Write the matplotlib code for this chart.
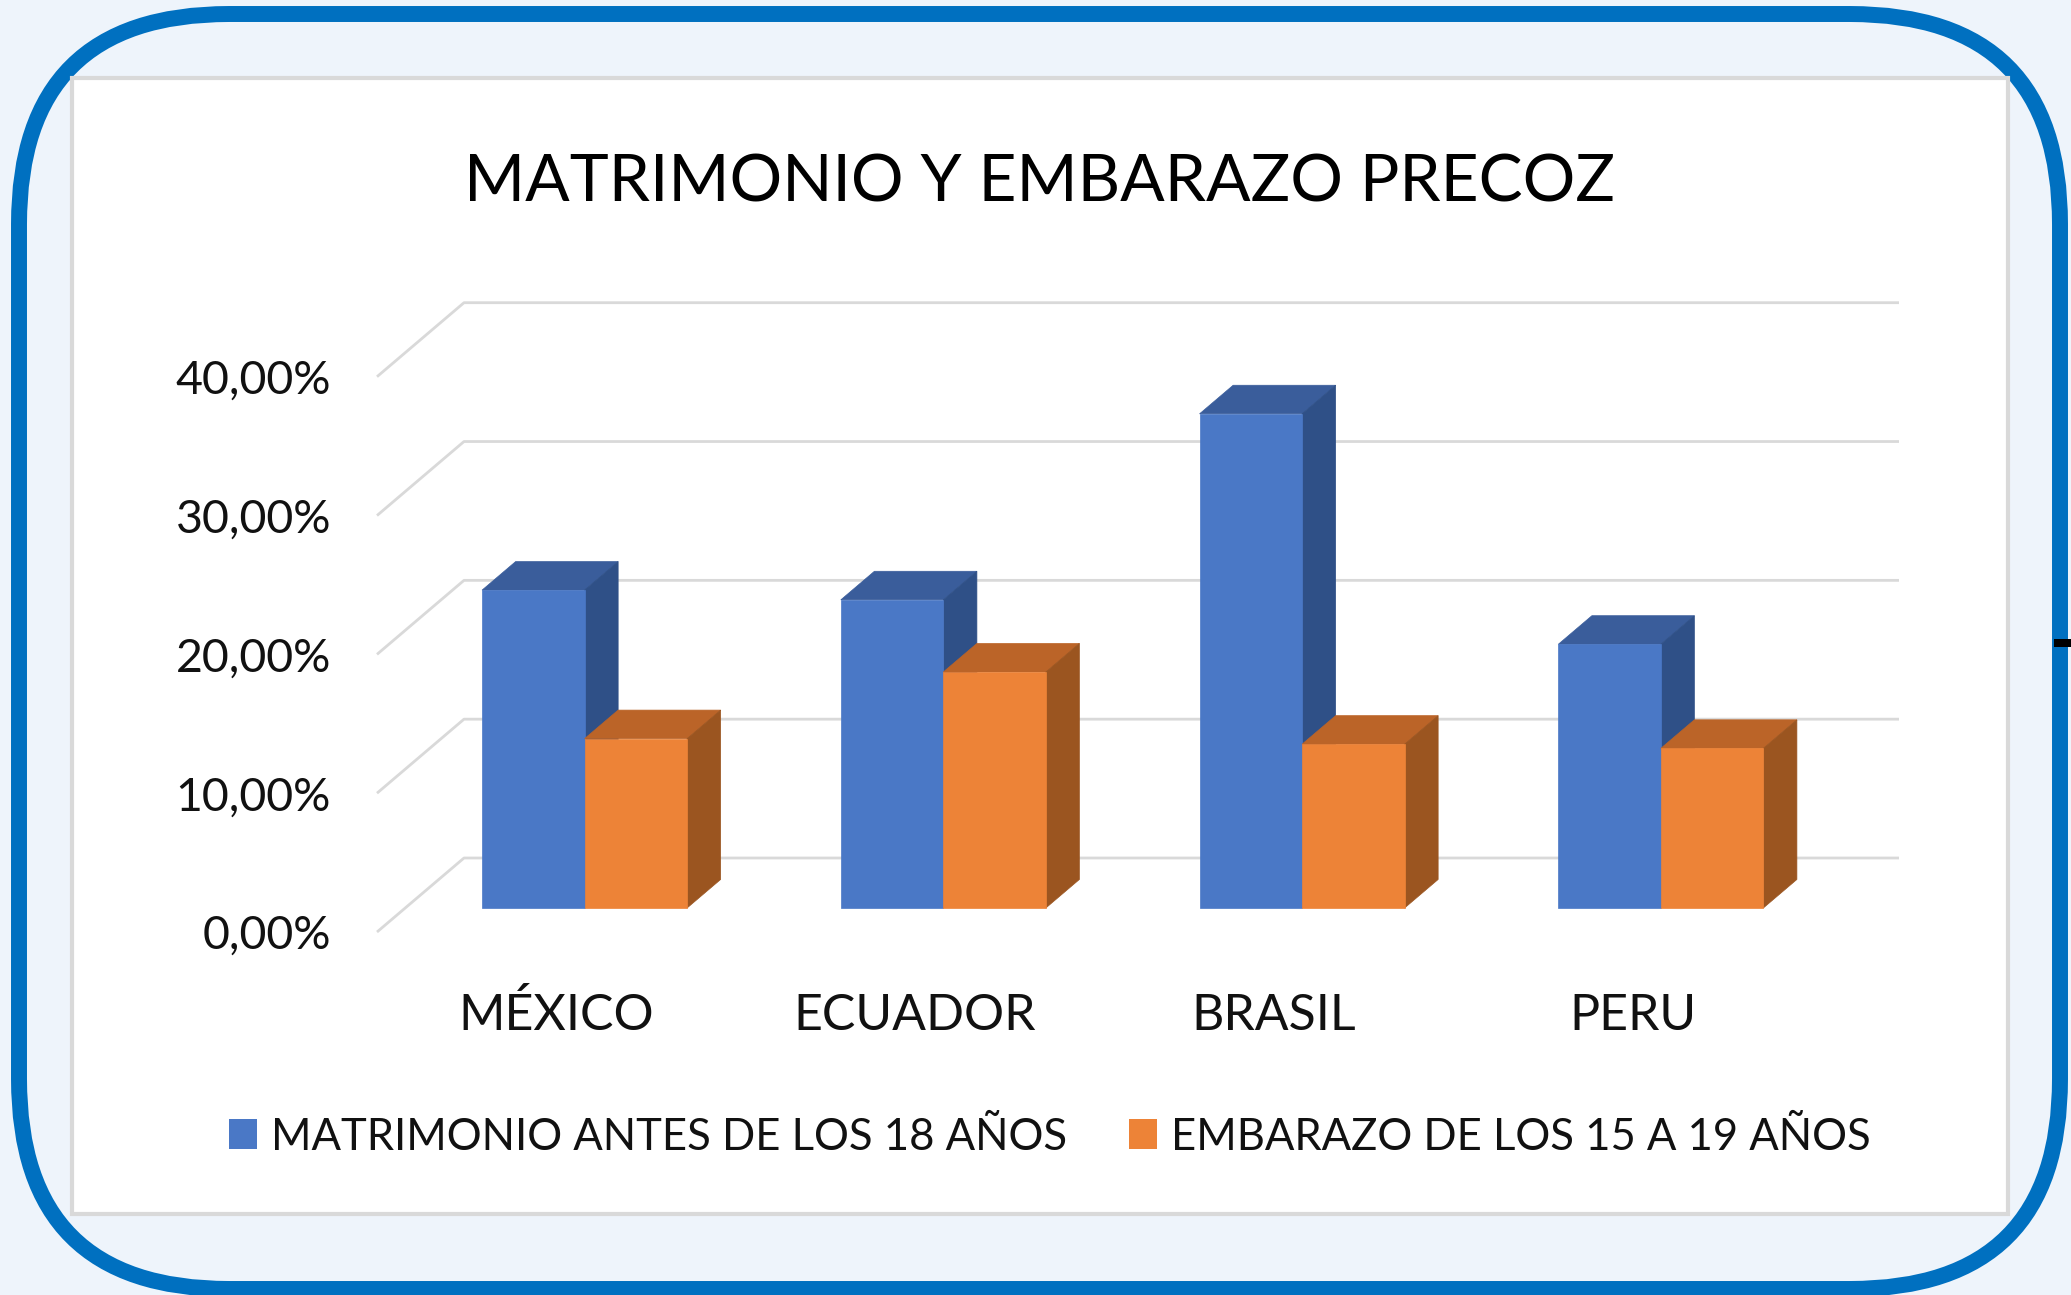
import numpy as np
import matplotlib.pyplot as plt
from matplotlib.patches import FancyBboxPatch, Rectangle, Patch
from matplotlib.transforms import offset_copy

plt.rcParams['font.family'] = ['Lato', 'DejaVu Sans']

# datos
paises = ['MÉXICO', 'ECUADOR', 'BRASIL', 'PERU']
matrimonio = [22.9, 22.2, 35.6, 19.0]
embarazo = [12.2, 17.0, 11.8, 11.5]
series = ['MATRIMONIO ANTES DE LOS 18 AÑOS', 'EMBARAZO DE LOS 15 A 19 AÑOS']
yticks = [0, 10, 20, 30, 40]
ytick_labels = ['0,00%', '10,00%', '20,00%', '30,00%', '40,00%']
titulo = 'MATRIMONIO Y EMBARAZO PRECOZ'

# colores: frente, tapa, lateral
azul = ['#4A78C6', '#3A5D9B', '#2F5087']
naranja = ['#ED8337', '#BB6428', '#9B5520']

W, H = 2071, 1295
fig = plt.figure(figsize=(W / 100, H / 100), dpi=100)
fig.patch.set_facecolor('#EEF4FB')

# marco (coordenadas en pixeles)
bg = fig.add_axes([0, 0, 1, 1])
bg.set_xlim(0, W)
bg.set_ylim(H, 0)
bg.axis('off')
bg.add_patch(FancyBboxPatch((19, 14), 2041, 1275, boxstyle='round,pad=0,rounding_size=210',
                            fc='none', ec='#0070C0', lw=11.5))
bg.add_patch(Rectangle((72, 78), 1936, 1136, fc='white', ec='#D9D9D9', lw=3))
bg.add_patch(Rectangle((2054, 639), 17, 8, fc='black', ec='none'))

# area del grafico: pared del fondo
ax = fig.add_axes([464 / W, (H - 858) / H, 1435 / W, (858 - 302.7) / H])
ax.set_xlim(0, 4)
ax.set_ylim(0, 40)
ax.axis('off')

DX = -87 / 358.75   # desplazamiento por profundidad (categorias)
DY = -74 / 13.88    # desplazamiento por profundidad (%)

for v in yticks:
    ax.plot([DX, 0, 4], [v + DY, v, v], color='#D9D9D9', lw=2, clip_on=False,
            zorder=1, solid_capstyle='butt')

tick_tr = offset_copy(ax.transData, fig=fig, x=-46, y=-17, units='dots')
for v, lab in zip(yticks, ytick_labels):
    ax.text(DX, v + DY, lab, transform=tick_tr, ha='right', va='baseline',
            fontsize=33.5, color='#111111')

cat_tr = offset_copy(ax.transData, fig=fig, x=0, y=-98, units='dots')
for k, p in enumerate(paises):
    ax.text(k + 0.5 + DX, DY, p, transform=cat_tr, ha='center', va='baseline',
            fontsize=36, color='#111111')

w = 0.2857
d_front, d_back = 0.676, 0.29


def pt(x, y, d):
    return (x + d * DX, y + d * DY)


def caja(x0, v, cols):
    df, db = d_front, d_back
    top = [pt(x0, v, df), pt(x0 + w, v, df), pt(x0 + w, v, db), pt(x0, v, db)]
    side = [pt(x0 + w, 0, df), pt(x0 + w, 0, db), pt(x0 + w, v, db), pt(x0 + w, v, df)]
    front = [pt(x0, 0, df), pt(x0 + w, 0, df), pt(x0 + w, v, df), pt(x0, v, df)]
    for poly, c in zip([top, side, front], [cols[1], cols[2], cols[0]]):
        xs, ys = zip(*poly)
        ax.fill(xs, ys, color=c, lw=0.5, clip_on=False, zorder=3)


for k in range(len(paises)):
    caja(k + 0.5 - w, matrimonio[k], azul)
    caja(k + 0.5, embarazo[k], naranja)

fig.text(1040 / W, 1 - 201 / H, titulo, ha='center', va='baseline', fontsize=47.4, color='black')

handles = [Patch(facecolor=azul[0]), Patch(facecolor=naranja[0])]
fig.legend(handles, series, loc='center', bbox_to_anchor=(1050 / W, 1 - 1137 / H), ncol=2,
           frameon=False, fontsize=31.4, handlelength=0.64, handleheight=0.69,
           handletextpad=0.32, columnspacing=1.42, labelcolor='#111111')

fig.savefig('out.png', dpi=100, facecolor=fig.get_facecolor())
